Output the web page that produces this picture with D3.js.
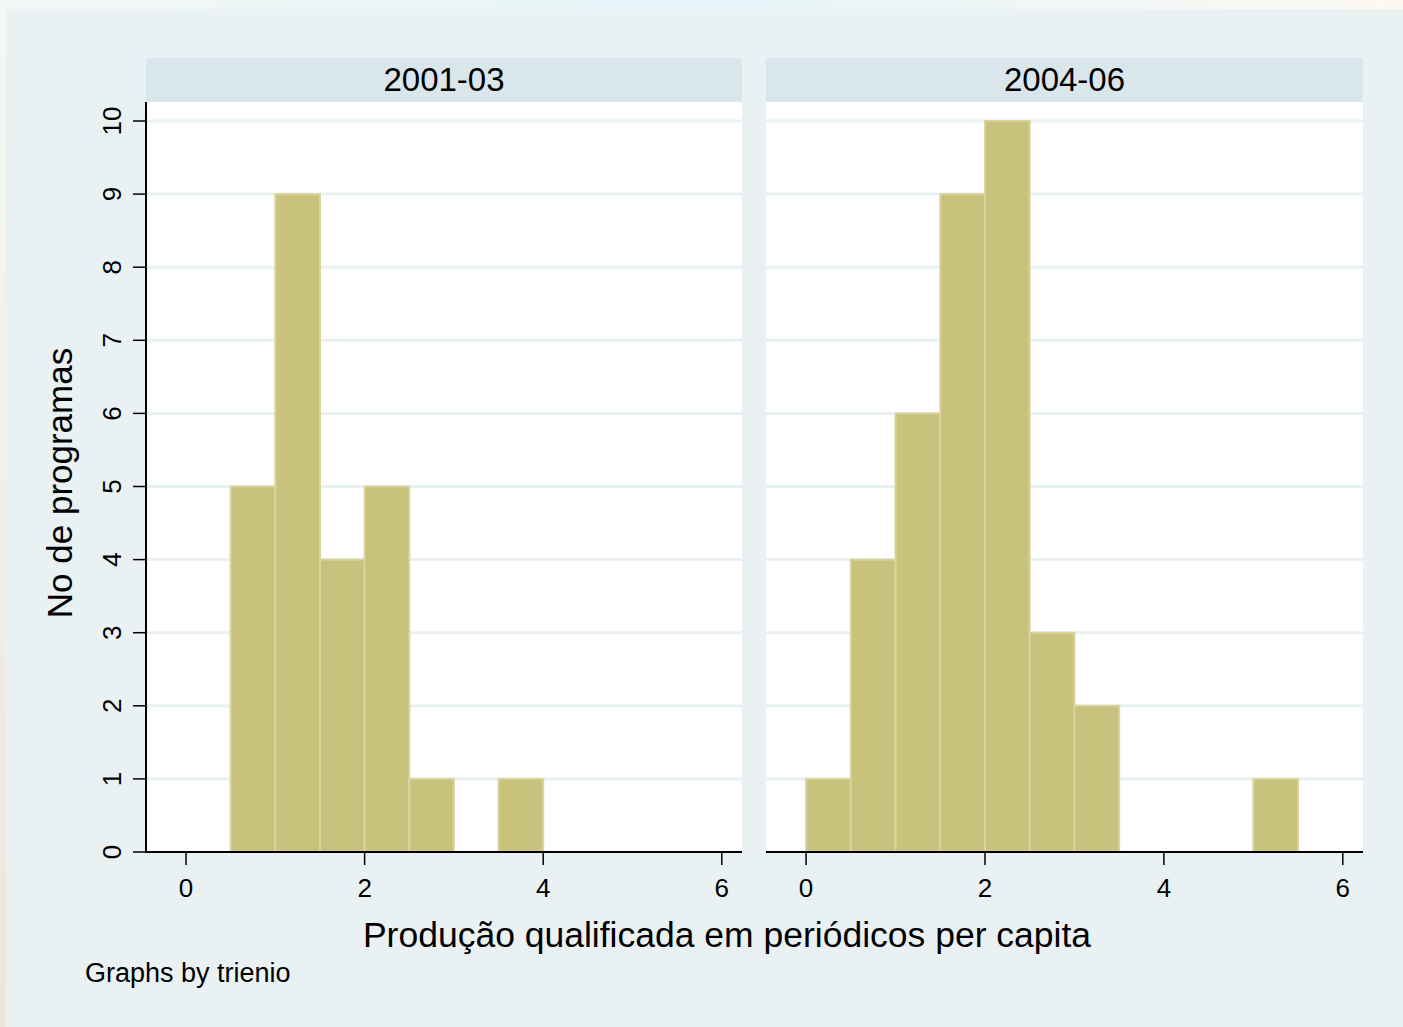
<!DOCTYPE html>
<html><head><meta charset="utf-8">
<script src="https://cdn.jsdelivr.net/npm/d3@7"></script>
<style>body{margin:0;padding:0;overflow:hidden;background:#fff}svg{display:block}text{font-family:"Liberation Sans",Arial,sans-serif;fill:#000}</style>
</head><body><div id="chart"></div>
<script>
const panels = ["2001-03", "2004-06"];
const binStarts2001 = [0.5, 1.0, 1.5, 2.0, 2.5, 3.0, 3.5];
const counts2001 = [5, 9, 4, 5, 1, 0, 1];
const binStarts2004 = [0.0, 0.5, 1.0, 1.5, 2.0, 2.5, 3.0, 3.5, 4.0, 4.5, 5.0];
const counts2004 = [1, 4, 6, 9, 10, 3, 2, 0, 0, 0, 1];
const binWidth = 0.5;
const xTicks = [0, 2, 4, 6];
const yTicks = [0, 1, 2, 3, 4, 5, 6, 7, 8, 9, 10];
const yTitle = "No de programas";
const xTitle = "Produção qualificada em periódicos per capita";
const note = "Graphs by trienio";

const W = 1403, H = 1027;
const svg = d3.select("#chart").append("svg").attr("width", W).attr("height", H);
const defs = svg.append("defs");
const g1 = defs.append("linearGradient").attr("id","topg").attr("x1",0).attr("x2",1).attr("y1",0).attr("y2",0);
g1.append("stop").attr("offset","0%").attr("stop-color","#f4f8f4");
g1.append("stop").attr("offset","50%").attr("stop-color","#e4f4f8");
g1.append("stop").attr("offset","100%").attr("stop-color","#fdf9f2");
const g2 = defs.append("linearGradient").attr("id","leftg").attr("x1",0).attr("x2",0).attr("y1",0).attr("y2",1);
g2.append("stop").attr("offset","0%").attr("stop-color","#f4f9f6");
g2.append("stop").attr("offset","100%").attr("stop-color","#efe4d8");
svg.append("rect").attr("x",0).attr("y",0).attr("width",W).attr("height",H).attr("fill","url(#leftg)");
svg.append("rect").attr("x",0).attr("y",0).attr("width",W).attr("height",9).attr("fill","url(#topg)");
svg.append("rect").attr("x",6).attr("y",9).attr("width",W-6).attr("height",H-9).attr("fill","#eaf1f3");

const plotTop = 102, plotBot = 852;
const panelX = [[146, 742], [766, 1363]];
const y = d3.scaleLinear().domain([0, 10]).range([plotBot, 121]);
const data = [
  {title: panels[0], starts: binStarts2001, counts: counts2001},
  {title: panels[1], starts: binStarts2004, counts: counts2004}
];

data.forEach((p, i) => {
  const [x0, x1] = panelX[i];
  const x = d3.scaleLinear().domain([-0.448, 6.226]).range([x0, x1]);
  const g = svg.append("g");
  g.append("rect").attr("x", x0).attr("y", 58).attr("width", x1 - x0).attr("height", 44).attr("fill", "#d9e6eb");
  g.append("text").attr("x", (x0 + x1) / 2).attr("y", 91).attr("text-anchor", "middle")
    .attr("font-size", 33).text(p.title);
  g.append("rect").attr("x", x0).attr("y", plotTop).attr("width", x1 - x0).attr("height", plotBot - plotTop).attr("fill", "#fff");
  g.selectAll("line.grid").data(yTicks.filter(t => t > 0)).enter().append("line")
    .attr("x1", x0).attr("x2", x1).attr("y1", d => y(d)).attr("y2", d => y(d))
    .attr("stroke", "#eaf1f3").attr("stroke-width", 3);
  g.selectAll("rect.bar").data(p.starts.map((s, k) => ({s, c: p.counts[k]})).filter(d => d.c > 0)).enter()
    .append("rect")
    .attr("x", d => x(d.s)).attr("width", d => x(d.s + binWidth) - x(d.s))
    .attr("y", d => y(d.c)).attr("height", d => y(0) - y(d.c))
    .attr("fill", "#c9c27d").attr("stroke", "#d9d49e").attr("stroke-width", 2);
  const xa = g.append("g").attr("transform", `translate(0,${plotBot})`);
  xa.append("line").attr("x1", x0).attr("x2", x1).attr("stroke", "#000").attr("stroke-width", 2);
  xTicks.forEach(t => {
    xa.append("line").attr("x1", x(t)).attr("x2", x(t)).attr("y1", 0).attr("y2", 13).attr("stroke", "#000").attr("stroke-width", 1.5);
    xa.append("text").attr("x", x(t)).attr("y", 45).attr("text-anchor", "middle").attr("font-size", 26).text(t);
  });
  if (i === 0) {
    const ya = g.append("g");
    ya.append("line").attr("x1", x0).attr("x2", x0).attr("y1", plotTop).attr("y2", plotBot + 1).attr("stroke", "#000").attr("stroke-width", 2);
    yTicks.forEach(t => {
      ya.append("line").attr("x1", x0 - 13).attr("x2", x0).attr("y1", y(t)).attr("y2", y(t)).attr("stroke", "#000").attr("stroke-width", 1.5);
      ya.append("text").attr("transform", `translate(${x0 - 25},${y(t)}) rotate(-90)`)
        .attr("text-anchor", "middle").attr("font-size", 26).text(t);
    });
  }
});

svg.append("text").attr("transform", `translate(72,${(plotTop + plotBot) / 2 + 6}) rotate(-90)`)
  .attr("text-anchor", "middle").attr("font-size", 35).text(yTitle);
svg.append("text").attr("x", 727).attr("y", 947).attr("text-anchor", "middle").attr("font-size", 35.5).text(xTitle);
svg.append("text").attr("x", 85).attr("y", 982).attr("font-size", 27).text(note);
</script></body></html>
